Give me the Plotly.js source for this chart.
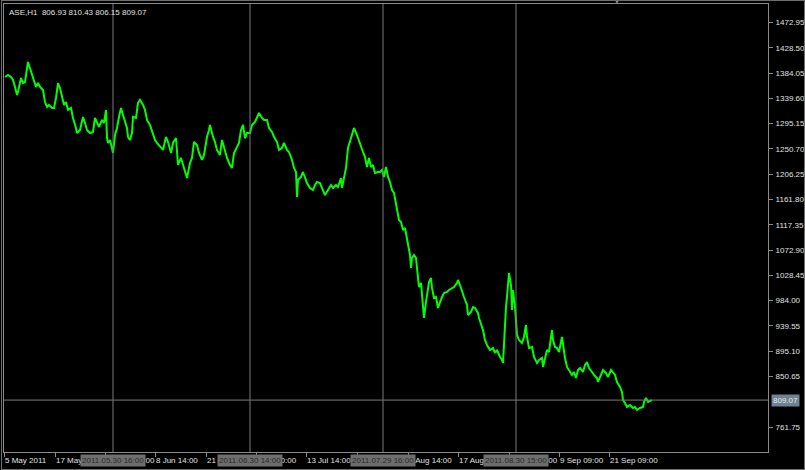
<!DOCTYPE html>
<html><head><meta charset="utf-8">
<script src="https://cdn.plot.ly/plotly-3.0.1.min.js"></script>
<style>
html,body{margin:0;padding:0;background:#000;}
#wrap{position:relative;width:805px;height:470px;}
#chart{width:805px;height:470px;}
#frame{position:absolute;left:1px;top:0;width:802px;height:468px;border:1px solid #6e6e6e;pointer-events:none;}
</style>
</head><body><div id="wrap"><div id="chart"></div><div id="frame"></div></div>
<script>
// H1 bar index (0 = first bar shown) and closing price
const barIndex = [
  1,4,7,9,11,13,14,17,19,21,24,26,28,29,32,34,36,39,41,43,45,48,50,52,54,56,58,60,62,64,
  67,69,72,73,76,79,81,83,86,89,91,93,95,98,100,102,103,104,106,108,109,111,113,115,117,119,121,123,124,126,
  128,129,132,134,136,139,141,143,146,149,151,153,
  156,159,162,164,167,169,172,174,177,179,182,183,186,188,190,193,195,198,200,203,205,206,209,211,213,216,218,220,223,226,
  228,230,233,235,237,239,241,243,246,248,251,253,255,258,260,263,265,268,270,273,275,278,280,283,285,288,290,292,293,294,
  297,299,301,303,306,309,311,313,316,319,321,
  324,327,329,332,334,337,338,340,342,344,346,348,350,353,354,357,359,361,363,365,367,369,371,374,376,378,380,382,384,386,
  388,390,392,394,395,397,399,401,403,404,406,407,408,410,412,414,415,417,418,420,422,424,425,427,428,430,432,434,435,438,
  440,443,445,448,450,453,454,456,458,460,463,464,467,469,471,474,475,477,479,481,483,
  486,489,491,493,496,498,499,501,502,503,505,507,508,509,511,513,515,518,520,522,523,525,528,530,533,535,538,539,542,543,
  545,548,549,551,553,555,558,559,561,563,566,568,570,572,574,576,579,581,583,585,588,590,593,594,597,599,602,604,607,609,
  611,613,616,618,619,621,623,626,629,631,633,636,639,640,642,644,647,648
];
const closePrice = [
  1377.1,1380.6,1377.1,1371.8,1359.5,1345.4,1350.7,1375.3,1366.5,1368.3,1403.5,1393.0,1384.1,1375.3,1359.5,1366.5,1359.5,1354.2,1333.1,1324.4,1327.9,1322.6,1322.6,1340.2,1366.5,1357.7,1340.2,1327.9,1333.1,1319.1,
  1322.6,1305.0,1287.4,1278.6,1283.9,1306.8,1296.2,1283.9,1278.6,1280.4,1305.0,1298.0,1289.2,1301.5,1296.2,1319.1,1269.8,1261.1,1266.3,1252.3,1243.5,1275.1,1287.4,1306.8,1322.6,1310.3,1298.0,1287.4,1271.6,1266.3,
  1278.6,1306.8,1305.0,1331.4,1336.7,1327.9,1319.1,1301.5,1292.7,1278.6,1266.3,1261.1,
  1254.0,1248.8,1271.6,1262.8,1243.5,1261.1,1269.8,1222.4,1234.7,1222.4,1204.8,1199.5,1225.9,1234.7,1262.8,1257.5,1243.5,1231.2,1240.0,1271.6,1283.9,1292.7,1271.6,1262.8,1248.8,1240.0,1266.3,1252.3,1234.7,1222.4,
  1217.1,1243.5,1254.0,1261.1,1283.9,1292.7,1269.8,1278.6,1278.6,1292.7,1298.0,1306.8,1313.8,1305.0,1301.5,1301.5,1287.4,1280.4,1271.6,1262.8,1248.8,1252.3,1261.1,1248.8,1245.2,1231.2,1217.1,1210.1,1166.1,1196.0,
  1201.3,1210.1,1199.5,1190.7,1182.0,1178.4,1187.2,1192.5,1190.7,1178.4,1169.6,
  1178.4,1187.2,1181.9,1187.2,1183.7,1199.5,1181.9,1199.5,1217.1,1252.3,1262.8,1275.1,1287.4,1275.1,1269.8,1252.3,1245.2,1236.4,1218.9,1234.7,1218.9,1222.4,1208.3,1210.1,1210.1,1213.6,1201.3,1218.9,1201.3,1192.5,
  1178.4,1173.2,1155.6,1134.5,1125.7,1122.2,1108.1,1111.6,1094.0,1085.3,1064.2,1041.3,1058.9,1064.2,1058.9,1023.7,1008.0,1015.0,993.9,953.4,981.6,1006.2,1016.7,1023.7,1006.2,988.6,990.3,971.0,976.3,990.3,
  997.4,999.1,1002.6,1006.2,1007.9,1015.0,1020.2,1011.4,999.1,990.3,976.3,958.7,964.0,972.7,971.0,962.2,953.4,941.1,932.3,914.7,906.0,
  897.1,900.6,891.9,897.1,884.8,879.6,874.3,949.9,972.7,990.3,1032.5,1011.4,967.5,1002.6,972.7,923.5,914.7,909.5,920.0,941.1,920.0,900.6,902.4,884.8,874.3,879.6,883.1,867.3,888.4,897.1,
  893.6,932.3,914.7,902.4,900.6,893.6,920.0,906.0,883.1,867.3,858.5,853.2,858.5,848.0,862.0,865.5,858.5,870.8,876.0,865.5,858.5,853.2,848.0,840.9,853.2,862.0,856.7,849.7,862.0,856.7,
  853.2,840.9,832.1,823.3,809.2,804.0,797.0,800.5,795.2,797.0,791.7,795.2,797.0,805.7,812.7,805.7,809.2,809.07
];
const yTickValues = [1472.95,1428.50,1384.05,1339.60,1295.15,1250.70,1206.25,1161.80,1117.35,1072.90,1028.45,984.00,939.55,895.10,850.65,761.75];
const xTickBars = [0,51,101,151,202,252,302,353,404,454,505,555,605];
const xTickLabels = ['5 May 2011','17 May 16:00','27 May 15:00','8 Jun 14:00','21 Jun 16:00','1 Jul 10:00','13 Jul 14:00','25 Jul 11:00','3 Aug 14:00','17 Aug 11:00','29 Aug 10:00','9 Sep 09:00','21 Sep 09:00'];
const separatorBars = [109,246,379,512];
const separatorLabels = ['2011.05.30 16:00','2011.06.30 14:00','2011.07.29 16:00','2011.08.30 15:00'];
const symbolInfo = 'ASE,H1  806.93 810.43 806.15 809.07';
const lastPrice = 809.07;

const FONT = 'Liberation Sans, Arial, sans-serif';
const GRID = '#8a8a8a';
const FS = 8;

const trace = {
  type: 'scatter', mode: 'lines',
  x: barIndex, y: closePrice,
  line: {color: '#00ff00', width: 2},
  hoverinfo: 'skip'
};

const shapes = separatorBars.map(b => ({
  type: 'line', xref: 'x', yref: 'paper', x0: b, x1: b, y0: 0, y1: 1,
  line: {color: '#7a7a7a', width: 1}
}));
shapes.push({
  type: 'line', xref: 'paper', yref: 'y', x0: 0, x1: 1, y0: lastPrice, y1: lastPrice,
  line: {color: '#7a7a7a', width: 1}
});

const annotations = separatorBars.map((b, i) => ({
  xref: 'x', yref: 'paper', x: b, y: 0, yanchor: 'top', xanchor: 'center', yshift: -2,
  text: separatorLabels[i], showarrow: false,
  bgcolor: '#6e6e6e', borderpad: 1,
  font: {family: FONT, size: FS, color: '#2a2a2a'}
}));
annotations.push({
  xref: 'paper', yref: 'y', x: 1, y: lastPrice, xanchor: 'left', yanchor: 'middle', xshift: 3,
  text: lastPrice.toFixed(2), showarrow: false,
  bgcolor: '#6f8193', borderpad: 1,
  font: {family: FONT, size: FS, color: '#e8e8e8'}
});
annotations.push({
  xref: 'paper', yref: 'paper', x: 0, y: 1, xanchor: 'left', yanchor: 'top', xshift: 3, yshift: -2,
  text: symbolInfo, showarrow: false,
  font: {family: FONT, size: FS, color: '#e0e0e0'}
});
annotations.push({
  xref: 'paper', yref: 'paper', x: 0.8023, y: 1, xanchor: 'center', yanchor: 'bottom', yshift: -3,
  text: '▼', showarrow: false,
  font: {family: FONT, size: 6, color: '#8a8a8a'}
});

const layout = {
  width: 805, height: 470,
  paper_bgcolor: '#000', plot_bgcolor: '#000',
  margin: {l: 4, r: 37, t: 4, b: 18},
  showlegend: false,
  font: {family: FONT, size: FS, color: '#e0e0e0'},
  xaxis: {
    range: [0, 764], showgrid: false, zeroline: false,
    showline: true, linecolor: GRID, linewidth: 1, mirror: true,
    ticks: 'outside', ticklen: 4, tickcolor: GRID, tickwidth: 1,
    tickvals: xTickBars, ticktext: xTickLabels, tickangle: 0,
    ticklabelposition: 'outside right', ticklabelstandoff: 0,
    tickfont: {family: FONT, size: FS, color: '#e0e0e0'}
  },
  yaxis: {
    range: [717.8, 1505.4], side: 'right', showgrid: false, zeroline: false,
    showline: true, linecolor: GRID, linewidth: 1, mirror: true,
    ticks: 'outside', ticklen: 4, tickcolor: GRID, tickwidth: 1,
    tickvals: yTickValues, ticktext: yTickValues.map(v => v.toFixed(2)),
    ticklabelstandoff: 1,
    tickfont: {family: FONT, size: FS, color: '#e0e0e0'}
  },
  shapes: shapes,
  annotations: annotations
};

Plotly.newPlot('chart', [trace], layout, {staticPlot: true, displayModeBar: false});
</script>
</body></html>
